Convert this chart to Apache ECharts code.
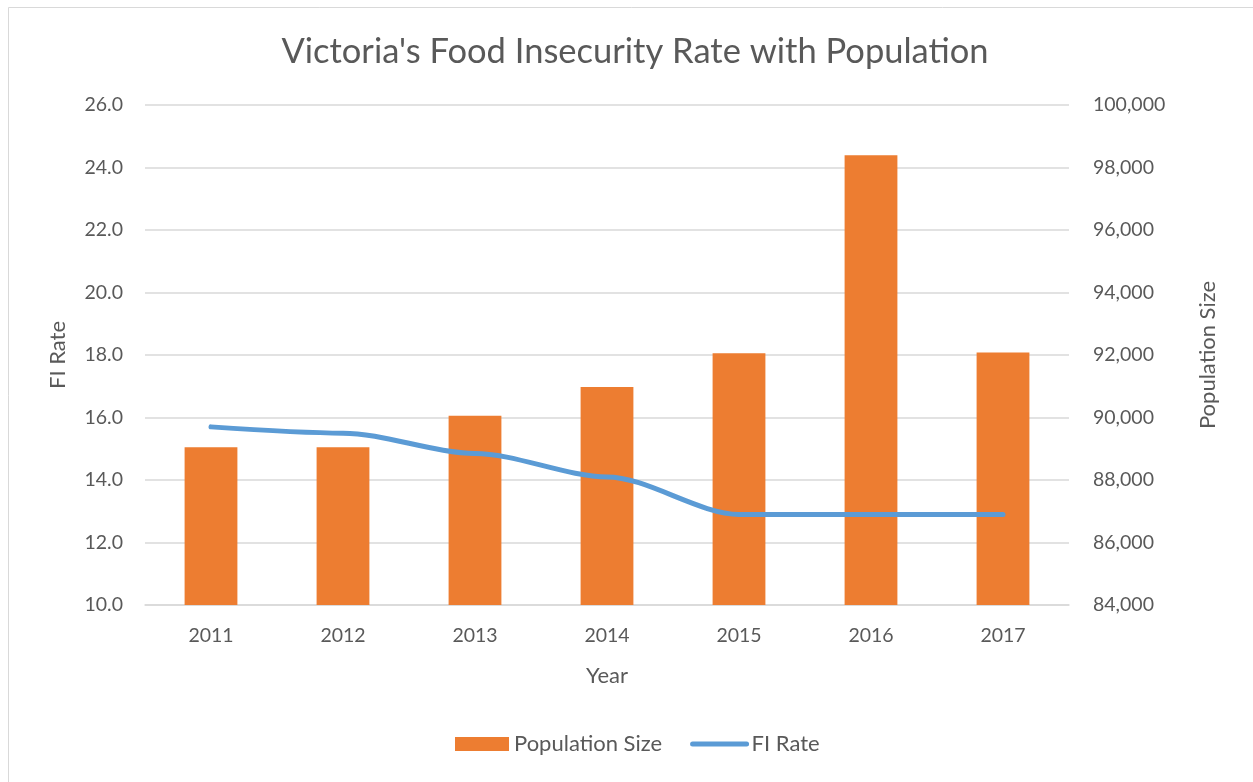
<!DOCTYPE html>
<html>
<head>
<meta charset="utf-8">
<script src="https://cdn.jsdelivr.net/npm/echarts@6/dist/echarts.min.js"></script>
<style>
  html, body { margin: 0; padding: 0; background: #fff; }
  #chart { width: 1253px; height: 782px; }
</style>
</head>
<body>
<div id="chart"></div>
<script>
// Victoria: population (bars, right axis) and food insecurity rate (line, left axis)
const years = ['2011', '2012', '2013', '2014', '2015', '2016', '2017'];
const populationSize = [89050, 89050, 90060, 90980, 92060, 98390, 92080];
const fiRate = [15.7, 15.5, 14.85, 14.1, 12.9, 12.9, 12.9];

const FONT = 'Lato, "Open Sans", sans-serif';
const TEXT = '#595959';
const GRID = '#D9D9D9';

const chart = echarts.init(document.getElementById('chart'));
chart.setOption({
  animation: false,
  backgroundColor: '#fff',
  graphic: [{
    type: 'rect',
    shape: { x: 8.5, y: 7.5, width: 1260, height: 800 },
    style: { fill: 'none', stroke: '#D9D9D9', lineWidth: 1 },
    silent: true,
    z: -1
  }],
  title: {
    text: "Victoria's Food Insecurity Rate with Population",
    left: 630,
    textAlign: 'center',
    top: 29,
    textStyle: { fontFamily: FONT, fontSize: 34.5, fontWeight: 'normal', color: TEXT }
  },
  legend: {
    bottom: 22,
    left: 450,
    itemGap: 28,
    itemWidth: 54,
    itemHeight: 14,
    textStyle: { fontFamily: FONT, fontSize: 22, color: TEXT },
    data: [
      { name: 'Population Size', icon: 'rect' },
      {
        name: 'FI Rate',
        itemStyle: { opacity: 0 },
        lineStyle: { color: '#5B9BD5', width: 5, cap: 'round' }
      }
    ]
  },
  grid: { left: 145, right: 184, top: 105, bottom: 177 },
  xAxis: {
    type: 'category',
    data: years,
    name: 'Year',
    nameLocation: 'middle',
    nameGap: 60,
    nameTextStyle: { fontFamily: FONT, fontSize: 22, color: TEXT },
    axisLine: { lineStyle: { color: GRID, width: 1.5 } },
    axisTick: { show: false },
    axisLabel: { fontFamily: FONT, fontSize: 19.5, color: TEXT, margin: 21 }
  },
  yAxis: [
    {
      type: 'value',
      min: 10, max: 26, interval: 2,
      name: 'FI Rate',
      nameLocation: 'middle',
      nameGap: 76,
      nameTextStyle: { fontFamily: FONT, fontSize: 22, color: TEXT },
      axisLine: { show: false },
      axisTick: { show: false },
      axisLabel: { fontFamily: FONT, fontSize: 19.5, color: TEXT, margin: 22,
        formatter: v => v.toFixed(1) },
      splitLine: { lineStyle: { color: GRID, width: 1.5 } }
    },
    {
      type: 'value',
      min: 84000, max: 100000, interval: 2000,
      name: 'Population Size',
      nameLocation: 'middle',
      nameGap: 128,
      nameRotate: 90,
      nameTextStyle: { fontFamily: FONT, fontSize: 22, color: TEXT },
      axisLine: { show: false },
      axisTick: { show: false },
      axisLabel: { fontFamily: FONT, fontSize: 19.5, color: TEXT, margin: 24,
        formatter: v => v.toLocaleString('en-US') },
      splitLine: { show: false }
    }
  ],
  series: [
    {
      name: 'Population Size',
      type: 'bar',
      yAxisIndex: 1,
      data: populationSize,
      barWidth: '40%',
      itemStyle: { color: '#ED7D31' }
    },
    {
      name: 'FI Rate',
      type: 'line',
      yAxisIndex: 0,
      data: fiRate,
      smooth: 0.3,
      smoothMonotone: 'x',
      showSymbol: false,
      symbol: 'none',
      lineStyle: { color: '#5B9BD5', width: 5, cap: 'round' },
      itemStyle: { color: '#5B9BD5' }
    }
  ]
});
</script>
</body>
</html>
